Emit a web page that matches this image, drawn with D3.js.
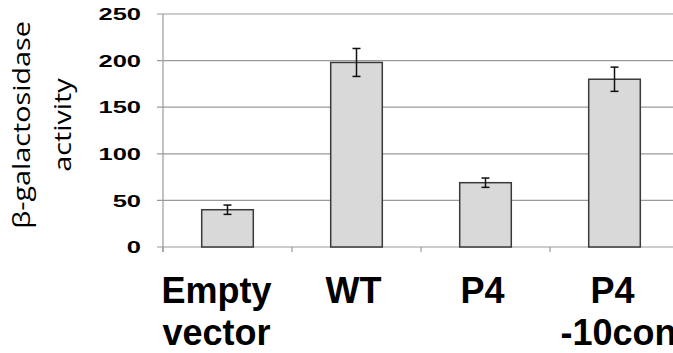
<!DOCTYPE html>
<html>
<head>
<meta charset="utf-8">
<script src="https://cdn.jsdelivr.net/npm/d3@7"></script>
<style>
  body { margin: 0; background: #fff; }
  svg { display: block; }
</style>
</head>
<body>
<div id="chart"></div>
<script>
// data
var categories = ["Empty vector", "WT", "P4", "P4 -10cons"];
var labelLines = [["Empty", "vector"], ["WT"], ["P4"], ["P4", "-10cons"]];
var activity = [40, 198, 69, 180];
var errors = [5, 15, 5, 13];
var yTicks = [0, 50, 100, 150, 200, 250];

var width = 673, height = 353;
var plotLeft = 163, plotTop = 14, plotBottom = 247, plotRight = 679;

var svg = d3.select("#chart").append("svg")
  .attr("width", width).attr("height", height);

var x = d3.scaleBand().domain(categories).range([plotLeft, plotRight]).padding(0);
var y = d3.scaleLinear().domain([0, 250]).range([plotBottom, plotTop]);

// gridlines + left ticks
svg.append("g").selectAll("line").data(yTicks).enter().append("line")
  .attr("x1", plotLeft - 6).attr("x2", plotRight)
  .attr("y1", function(d) { return y(d); }).attr("y2", function(d) { return y(d); })
  .attr("stroke", "#9a9a9a").attr("stroke-width", 1.2);

// left axis line
svg.append("line")
  .attr("x1", plotLeft).attr("x2", plotLeft).attr("y1", y(250)).attr("y2", plotBottom + 5)
  .attr("stroke", "#9a9a9a").attr("stroke-width", 1.2);

// category boundary ticks
var bounds = categories.map(function(c) { return x(c); }).concat([plotRight]);
svg.append("g").selectAll("line").data(bounds).enter().append("line")
  .attr("x1", function(d) { return d; }).attr("x2", function(d) { return d; })
  .attr("y1", plotBottom).attr("y2", plotBottom + 5)
  .attr("stroke", "#9a9a9a").attr("stroke-width", 1.2);

// y tick labels
svg.append("g").selectAll("text").data(yTicks).enter().append("text")
  .attr("transform", function(d) { return "translate(141," + y(d) + ") scale(1.5,1)"; })
  .attr("dy", "0.36em")
  .attr("text-anchor", "end")
  .style("font-family", "Liberation Sans, Arial, sans-serif")
  .style("font-weight", "bold")
  .style("font-size", "17px")
  .text(function(d) { return d; });

// bars
var bw = x.bandwidth() * 0.4;
svg.append("g").selectAll("rect").data(activity).enter().append("rect")
  .attr("x", function(d, i) { return x(categories[i]) + x.bandwidth() / 2 - bw / 2; })
  .attr("y", function(d) { return y(d); })
  .attr("width", bw)
  .attr("height", function(d) { return plotBottom - y(d); })
  .attr("fill", "#d9d9d9").attr("stroke", "#3a3a3a").attr("stroke-width", 1.5);

// error bars
var eb = svg.append("g").attr("stroke", "#111").attr("stroke-width", 1.5);
activity.forEach(function(v, i) {
  var cx = x(categories[i]) + x.bandwidth() / 2;
  eb.append("line").attr("x1", cx).attr("x2", cx)
    .attr("y1", y(v + errors[i])).attr("y2", y(v - errors[i]));
  [v + errors[i], v - errors[i]].forEach(function(e) {
    eb.append("line").attr("x1", cx - 4).attr("x2", cx + 4)
      .attr("y1", y(e)).attr("y2", y(e));
  });
});

// category labels
var labelShift = [-11, -3, -3, -2];
labelLines.forEach(function(lines, i) {
  var cx = x(categories[i]) + x.bandwidth() / 2 + labelShift[i];
  var t = svg.append("text")
    .style("font-family", "Liberation Sans, Arial, sans-serif")
    .style("font-weight", "bold")
    .style("font-size", "36px")
    .attr("fill", "#000");
  lines.forEach(function(s, j) {
    var span = t.append("tspan").attr("y", 303 + j * 42).text(s);
    if (i === 3 && j === 1) {
      span.attr("x", cx - 52).attr("text-anchor", "start");
    } else {
      span.attr("x", cx).attr("text-anchor", "middle");
    }
  });
});

// y axis title
var title = svg.append("text")
  .attr("transform", "translate(0,125) rotate(-90) scale(1.25,1)")
  .attr("text-anchor", "middle")
  .style("font-family", "Open Sans, Noto Sans, sans-serif")
  .style("font-size", "23px")
  .attr("fill", "#000");
title.append("tspan").attr("x", 0).attr("y", 30).text("\u03b2-galactosidase");
title.append("tspan").attr("x", 0).attr("y", 71).text("activity");
</script>
</body>
</html>
